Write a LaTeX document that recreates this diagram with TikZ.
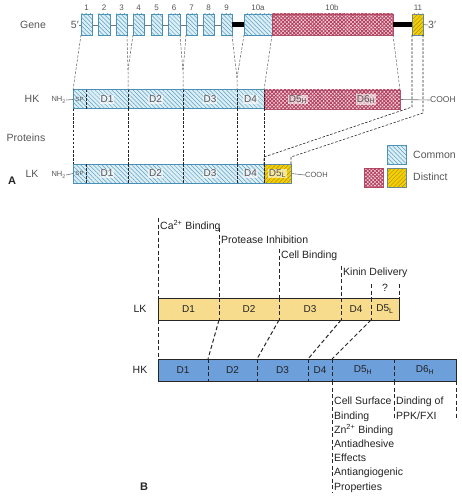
\documentclass[tikz,border=0pt]{standalone}
\usepackage{fontspec}
\setmainfont{Liberation Sans}
\usetikzlibrary{patterns,patterns.meta}
\definecolor{cfill}{HTML}{DDEFF6}
\definecolor{cline}{HTML}{5B9FC2}
\definecolor{cborder}{HTML}{4A8FB5}
\definecolor{rfill}{HTML}{F4D6DE}
\definecolor{rline}{HTML}{B4405F}
\definecolor{rborder}{HTML}{B0506D}
\definecolor{yfill}{HTML}{F5D000}
\definecolor{yline}{HTML}{A88A20}
\definecolor{lkb}{HTML}{F8DC8E}
\definecolor{hkb}{HTML}{6D9FDB}
\definecolor{txtA}{HTML}{555555}
\definecolor{txtB}{HTML}{222222}
\tikzset{
  seg/.style={inner sep=0pt, outer sep=0pt, anchor=north west},
  common/.style={fill=cfill, postaction={pattern={Lines[angle=-45,distance=3pt,line width=0.5pt]}, pattern color=cline}},
  distinct/.style={fill=rfill,
     postaction={pattern={Lines[angle=45,distance=2.6pt,line width=0.9pt]}, pattern color=rline},
     postaction={pattern={Lines[angle=-45,distance=2.6pt,line width=0.9pt]}, pattern color=rline}},
  ydistinct/.style={fill=yfill, postaction={pattern={Lines[angle=45,distance=3pt,line width=0.5pt]}, pattern color=yline}},
  exon/.style={seg, common, draw=cborder, line width=0.7pt, minimum height=21pt},
  num/.style={text=txtA, font=\fontsize{8}{9}\selectfont, inner sep=0pt},
  lblA/.style={text=txtA, font=\fontsize{10.5}{12}\selectfont, inner sep=0pt},
  dlab/.style={text=txtA, font=\fontsize{10}{11}\selectfont, inner sep=0.8pt, fill=white, fill opacity=0.6, text opacity=1},
  small/.style={text=txtA, font=\fontsize{7.5}{8}\selectfont, inner sep=0pt},
  conn/.style={draw=black!65, line width=0.5pt, dash pattern=on 2.5pt off 1.6pt},
  divd/.style={draw=black!85, line width=0.6pt, dash pattern=on 2.5pt off 1.6pt},
  bconn/.style={draw=black!85, line width=1pt, dash pattern=on 4pt off 2.5pt},
  lblB/.style={text=txtB, font=\fontsize{10.5}{14.2}\selectfont, inner sep=2pt},
  barB/.style={seg, minimum height=22pt},
  dB/.style={text=txtB, font=\fontsize{10}{11}\selectfont, inner sep=0pt},
}
\begin{document}
\begin{tikzpicture}[x=1pt,y=-1pt]
\useasboundingbox (0,0) rectangle (461,500);

% ---------------- Part A: gene ----------------
\node[lblA] (gene) at (33,25) {Gene};
\node[lblA, anchor=east] (five) at (79,25) {5′};
\draw[black!55, line width=0.6pt] (five.east) -- (221,25);
\foreach \n/\x/\w in {1/81/11, 2/98/12, 3/116/11, 4/133/11, 5/151/11, 6/168/12, 7/186/11, 8/203/11, 9/221/11}{
  \node[exon, minimum width=\w pt] (e\n) at (\x,14) {};
  \node[num] (n\n) at ({\x+\w/2},8) {\n};
}
\node[exon, minimum width=28pt] (e10a) at (244,14) {};
\node[seg, distinct, draw=rborder, line width=0.7pt, minimum width=121pt, minimum height=21pt] (e10b) at (272,14) {};
\node[seg, ydistinct, draw=cborder!60!gray, line width=0.7pt, minimum width=11pt, minimum height=21pt] (e11) at (412,14) {};
\node[num] (n10a) at (258,8) {10a};
\node[num] (n10b) at (332,8) {10b};
\node[num] (n11) at (418,8) {11};
\draw[black, line width=5pt] (e9.east) -- (e10a.west);
\draw[black, line width=5pt] (e10b.east) -- (e11.west);
\node[lblA, anchor=west] (three) at (428,25) {3′};
\draw[black!55, line width=0.6pt] (e11.east) -- (three.west);

% ---------------- Part A: HK ----------------
\node[lblA] (hkA) at (32,99) {HK};
\node[small, anchor=east] (nh2h) at (66,100) {NH\textsubscript{2}};
\node[seg, common, minimum width=13pt, minimum height=19pt] (hSP) at (73,90) {};
\node[seg, common, minimum width=42pt, minimum height=19pt] (hD1) at (86,90) {};
\node[seg, common, minimum width=55pt, minimum height=19pt] (hD2) at (128,90) {};
\node[seg, common, minimum width=54pt, minimum height=19pt] (hD3) at (183,90) {};
\node[seg, common, minimum width=27pt, minimum height=19pt] (hD4) at (237,90) {};
\node[seg, distinct, minimum width=136pt, minimum height=19pt] (hD56) at (264,90) {};
\draw[cborder, line width=1pt] (hSP.north west) rectangle (hD4.south east);
\draw[rborder, line width=0.8pt] (hD56.north west) rectangle (hD56.south east);
\draw[black!55, line width=0.6pt] (nh2h.east) -- (hSP.west);
\foreach \s in {hD1,hD2,hD3,hD4,hD56}{\draw[divd] (\s.north west) -- (\s.south west);}
\node[small, font=\fontsize{6}{7}\selectfont] (hlSP) at (hSP.center) {SP};
\node[dlab] (hl1) at (hD1.center) {D1};
\node[dlab] (hl2) at (hD2.center) {D2};
\node[dlab] (hl3) at (hD3.center) {D3};
\node[dlab] (hl4) at (hD4.center) {D4};
\node[dlab] (hl5) at (298,99.5) {D5\textsubscript{H}};
\node[dlab] (hl6) at (366,99.5) {D6\textsubscript{H}};
\node[small, font=\fontsize{8.5}{9}\selectfont, anchor=west] (coohH) at (430,100) {COOH};
\draw[black!55, line width=0.6pt] (hD56.east) -- (coohH.west);

\node[lblA] (prot) at (26,138) {Proteins};

% ---------------- Part A: LK ----------------
\node[lblA] (lkA) at (32,174) {LK};
\node[small, anchor=east] (nh2l) at (66,175) {NH\textsubscript{2}};
\node[seg, common, minimum width=13pt, minimum height=19pt] (lSP) at (73,164) {};
\node[seg, common, minimum width=42pt, minimum height=19pt] (lD1) at (86,164) {};
\node[seg, common, minimum width=55pt, minimum height=19pt] (lD2) at (128,164) {};
\node[seg, common, minimum width=54pt, minimum height=19pt] (lD3) at (183,164) {};
\node[seg, common, minimum width=27pt, minimum height=19pt] (lD4) at (237,164) {};
\node[seg, ydistinct, minimum width=27pt, minimum height=19pt] (lD5) at (264,164) {};
\draw[cborder, line width=1pt] (lSP.north west) rectangle (lD4.south east);
\draw[cborder!60!gray, line width=0.8pt] (lD5.north west) rectangle (lD5.south east);
\draw[black!55, line width=0.6pt] (nh2l.east) -- (lSP.west);
\foreach \s in {lD1,lD2,lD3,lD4,lD5}{\draw[divd] (\s.north west) -- (\s.south west);}
\node[small, font=\fontsize{6}{7}\selectfont] (llSP) at (lSP.center) {SP};
\node[dlab] (ll1) at (lD1.center) {D1};
\node[dlab] (ll2) at (lD2.center) {D2};
\node[dlab] (ll3) at (lD3.center) {D3};
\node[dlab] (ll4) at (lD4.center) {D4};
\node[dlab] (ll5) at (lD5.center) {D5\textsubscript{L}};
\node[small, anchor=west] (coohL) at (305,175) {COOH};
\draw[black!55, line width=0.6pt] (lD5.east) -- (coohL.west);

% connectors gene -> HK
\coordinate (v1) at (128,70);
\coordinate (v2) at (183,72);
\coordinate (v3) at (237,78);
\coordinate (k1) at (412,107);
\coordinate (k2) at (264,157);
\coordinate (k3) at (423,113);
\coordinate (k4) at (291,157);
\draw[conn] (e1.south west) -- (hSP.north west);
\draw[conn] (e3.south east) -- (v1) -- (hD2.north west);
\draw[conn] (e4.south west) -- (v1);
\draw[conn] (e6.south east) -- (v2) -- (hD3.north west);
\draw[conn] (e7.south west) -- (v2);
\draw[conn] (e9.south east) -- (v3) -- (hD4.north west);
\draw[conn] (e10a.south west) -- (v3);
\draw[conn] (e10a.south east) -- (hD56.north west);
\draw[conn] (e10b.south east) -- (hD56.north east);
\draw[divd] (e11.south west) -- (k1) -- (k2) -- (lD5.north west);
\draw[divd] (e11.south east) -- (k3) -- (k4) -- (lD5.north east);
% HK -> LK
\draw[divd] (hSP.south west) -- (lSP.north west);
\draw[divd] (hD2.south west) -- (lD2.north west);
\draw[divd] (hD3.south west) -- (lD3.north west);
\draw[divd] (hD4.south west) -- (lD4.north west);
\draw[divd] (hD56.south west) -- (lD5.north west);

% legend
\node[seg, common, draw=cborder, line width=0.8pt, minimum width=19pt, minimum height=19pt] (keyC) at (387,145) {};
\node[seg, distinct, draw=rborder, line width=0.8pt, minimum width=19pt, minimum height=19pt] (keyR) at (364,168) {};
\node[seg, ydistinct, draw=cborder!60!gray, line width=0.8pt, minimum width=19pt, minimum height=19pt] (keyY) at (387,168) {};
\node[lblA, anchor=west] (txtC) at (413,155) {Common};
\node[lblA, anchor=west] (txtD) at (413,177) {Distinct};

\node[font=\bfseries\fontsize{11}{12}\selectfont, text=black!85, inner sep=0pt] (labA) at (12,181) {A};

% ---------------- Part B ----------------
\node[text=txtB, font=\fontsize{10.5}{12}\selectfont, inner sep=0pt] (lkB) at (140,309) {LK};
\node[seg, barB, fill=lkb, minimum width=61pt] (lb1) at (158,298) {};
\node[seg, barB, fill=lkb, minimum width=60pt] (lb2) at (219,298) {};
\node[seg, barB, fill=lkb, minimum width=62pt] (lb3) at (279,298) {};
\node[seg, barB, fill=lkb, minimum width=30pt] (lb4) at (341,298) {};
\node[seg, barB, fill=lkb, minimum width=28pt] (lb5) at (371,298) {};
\draw[black!85, line width=0.8pt] (lb1.north west) rectangle (lb5.south east);
\foreach \s in {lb2,lb3,lb4,lb5}{\draw[bconn] (\s.north west) -- (\s.south west);}
\node[dB] at (lb1.center) {D1};
\node[dB] at (lb2.center) {D2};
\node[dB] at (lb3.center) {D3};
\node[dB] at (lb4.center) {D4};
\node[dB] at (lb5.center) {D5\textsubscript{L}};

\node[text=txtB, font=\fontsize{10.5}{12}\selectfont, inner sep=0pt] (hkB) at (140,370) {HK};
\node[seg, barB, fill=hkb, minimum width=50pt] (hb1) at (158,359) {};
\node[seg, barB, fill=hkb, minimum width=49pt] (hb2) at (208,359) {};
\node[seg, barB, fill=hkb, minimum width=51pt] (hb3) at (257,359) {};
\node[seg, barB, fill=hkb, minimum width=24pt] (hb4) at (308,359) {};
\node[seg, barB, fill=hkb, minimum width=62pt] (hb5) at (332,359) {};
\node[seg, barB, fill=hkb, minimum width=62pt] (hb6) at (394,359) {};
\draw[black!85, line width=0.8pt] (hb1.north west) rectangle (hb6.south east);
\foreach \s in {hb2,hb3,hb4,hb5,hb6}{\draw[bconn] (\s.north west) -- (\s.south west);}
\node[dB] at (hb1.center) {D1};
\node[dB] at (hb2.center) {D2};
\node[dB] at (hb3.center) {D3};
\node[dB] at (hb4.center) {D4};
\node[dB] at (hb5.center) {D5\textsubscript{H}};
\node[dB] at (hb6.center) {D6\textsubscript{H}};

% LK -> HK connectors
\draw[bconn] (lb1.south west) -- (hb1.north west);
\draw[bconn] (lb2.south west) -- (hb2.north west);
\draw[bconn] (lb3.south west) -- (hb3.north west);
\draw[bconn] (lb4.south west) -- (hb4.north west);
\draw[bconn] (lb5.south west) -- (hb5.north west);

% annotations above
\node[lblB, anchor=north west] (ca) at (158,218) {Ca\textsuperscript{2+} Binding};
\node[lblB, anchor=north west] (pi) at (219,234) {Protease Inhibition};
\node[lblB, anchor=north west] (cb) at (279,249) {Cell Binding};
\node[lblB, anchor=north west] (kd) at (341,266) {Kinin Delivery};
\node[lblB] (qm) at (385,288) {?};
\coordinate (piTop) at (219,228);
\coordinate (q1) at (371,284);
\coordinate (q2) at (399,284);
\draw[bconn] (ca.north west) -- (lb1.north west);
\draw[bconn] (piTop) -- (lb2.north west);
\draw[bconn] (cb.north west) -- (lb3.north west);
\draw[bconn] (kd.north west) -- (lb4.north west);
\draw[bconn] (q1) -- (lb5.north west);
\draw[bconn] (q2) -- (lb5.north east);

% annotations below
\node[lblB, anchor=north west, align=left] (d5txt) at (332,395) {Cell Surface\\Binding\\Zn\textsuperscript{2+} Binding\\Antiadhesive\\Effects\\Antiangiogenic\\Properties};
\node[lblB, anchor=north west, align=left] (d6txt) at (394,395) {Dinding of\\PPK/FXI};
\coordinate (b5end) at (332,492);
\coordinate (b6end) at (394,418);
\coordinate (b7end) at (456,418);
\draw[bconn] (hb5.south west) -- (b5end);
\draw[bconn] (hb6.south west) -- (b6end);
\draw[bconn] (hb6.south east) -- (b7end);

\node[font=\bfseries\fontsize{11}{12}\selectfont, text=black!85, inner sep=0pt] (labB) at (144,487) {B};
\end{tikzpicture}
\end{document}
